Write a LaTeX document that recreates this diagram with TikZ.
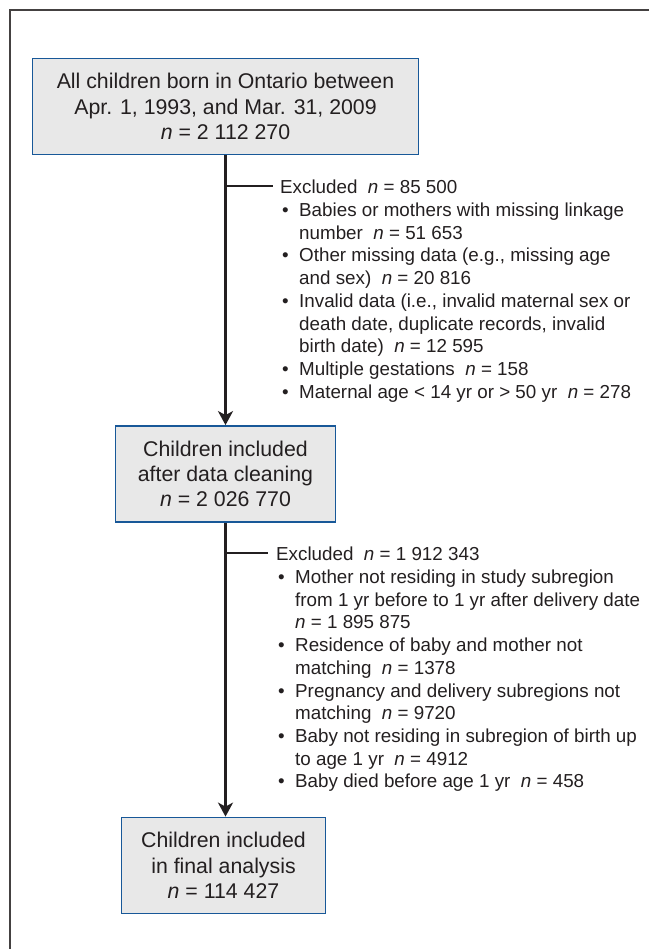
\documentclass[tikz,border=0pt]{standalone}
\usepackage{fontspec}
\setmainfont{Liberation Sans}
\usetikzlibrary{arrows.meta}
\usetikzlibrary{positioning,calc}
\definecolor{boxblue}{RGB}{24,88,152}
\definecolor{boxgray}{RGB}{232,232,232}
\definecolor{inkgray}{RGB}{35,31,32}
\tikzset{
	every node/.style={font=\fontsize{18.8}{22.7}\selectfont,text=inkgray}
}
\tikzset{
	>={Stealth[length=14pt,width=15pt,inset=4pt]},
	stage box/.style={rectangle,draw=boxblue,line width=1.8pt,fill=boxgray,align=center,inner sep=0pt,font=\fontsize{21.3}{25.3}\selectfont},
	flow line/.style={->,line width=2.8pt,draw=inkgray},
	branch line/.style={line width=1.8pt,draw=inkgray},
	excl list/.style={align=left,inner sep=0pt,anchor=north west},
	frame line/.style={line width=1.4pt,draw=inkgray!85}
}
\newcommand{\itm}{\makebox[19pt][l]{\hspace{2pt}\textbullet}}
\newcommand{\cnt}{\hspace*{19pt}}

\begin{document}
\begin{tikzpicture}[x=1pt,y=-1pt]
      \useasboundingbox (0,0) rectangle (649,949);
      \draw[frame line] (649,10) -- (10,10) -- (10,949);
      % boxes
      \node[stage box,minimum width=386pt,minimum height=96pt] (all) at (225.5,106.5)
        {All children born in Ontario between\\Apr. 1, 1993, and Mar. 31, 2009\\\textit{n} = 2 112 270};
      \node[stage box,minimum width=220pt,minimum height=96pt] (clean) at (225.5,474)
        {Children included\\after data cleaning\\\textit{n} = 2 026 770};
      \node[stage box,minimum width=204pt,minimum height=96pt] (final) at (223.5,865.5)
        {Children included\\in final analysis\\\textit{n} = 114 427};
      % exclusions
      \node[excl list] (ex1) at (280,180) {Excluded\ \ \textit{n} = 85 500\\
        \itm Babies or mothers with missing linkage\\
        \cnt number\ \ \textit{n} = 51 653\\
        \itm Other missing data (e.g., missing age\\
        \cnt and sex)\ \ \textit{n} = 20 816\\
        \itm Invalid data (i.e., invalid maternal sex or\\
        \cnt death date, duplicate records, invalid\\
        \cnt birth date)\ \ \textit{n} = 12 595\\
        \itm Multiple gestations\ \ \textit{n} = 158\\
        \itm Maternal age < 14 yr or > 50 yr\ \ \textit{n} = 278};
      \node[excl list] (ex2) at (276,547) {Excluded\ \ \textit{n} = 1 912 343\\
        \itm Mother not residing in study subregion\\
        \cnt from 1 yr before to 1 yr after delivery date\\
        \cnt \textit{n} = 1 895 875\\
        \itm Residence of baby and mother not\\
        \cnt matching\ \ \textit{n} = 1378\\
        \itm Pregnancy and delivery subregions not\\
        \cnt matching\ \ \textit{n} = 9720\\
        \itm Baby not residing in subregion of birth up\\
        \cnt to age 1 yr\ \ \textit{n} = 4912\\
        \itm Baby died before age 1 yr\ \ \textit{n} = 458};
      \coordinate (b1) at (225.5,186);
      \coordinate (e1) at (272.5,186);
      \coordinate (b2) at (225.5,553);
      \coordinate (e2) at (268,553);
      % connectors
      \draw[flow line] (all) -- (clean);
      \draw[flow line] (clean.south) -- (clean.south |- final.north);
      \draw[branch line] (b1) -- (e1);
      \draw[branch line] (b2) -- (e2);
    \end{tikzpicture}
\end{document}
